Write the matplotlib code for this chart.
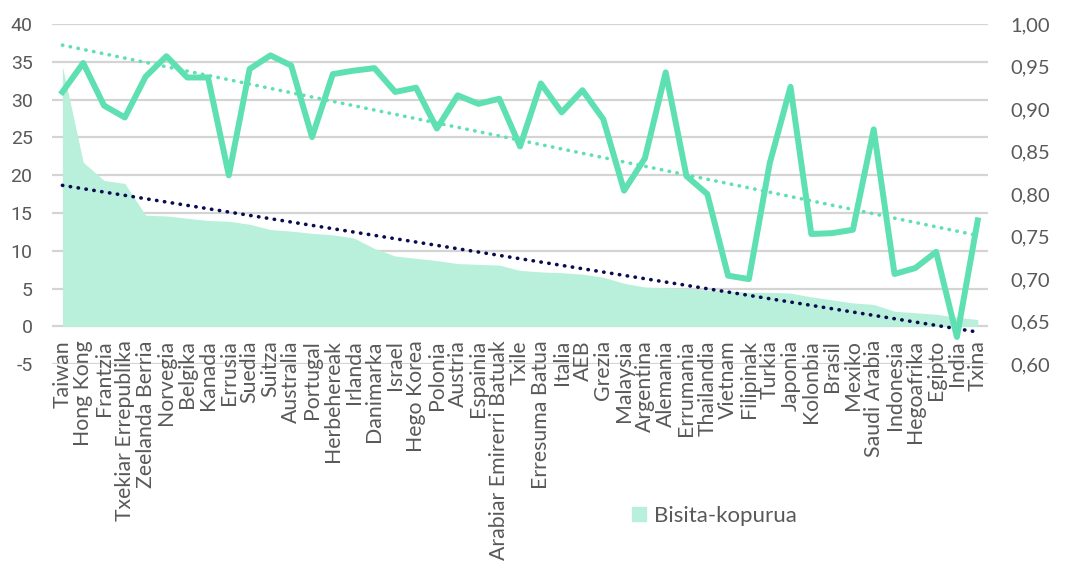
import numpy as np
import matplotlib
matplotlib.use("Agg")
import matplotlib.pyplot as plt
from matplotlib.patches import Patch
from matplotlib.ticker import FuncFormatter

plt.rcParams["axes.unicode_minus"] = False

COUNTRIES = ["Taiwan", "Hong Kong", "Frantzia", "Txekiar Errepublika", "Zeelanda Berria",
             "Norvegia", "Belgika", "Kanada", "Errusia", "Suedia", "Suitza", "Australia",
             "Portugal", "Herbehereak", "Irlanda", "Danimarka", "Israel", "Hego Korea",
             "Polonia", "Austria", "Espainia", "Arabiar Emirerri Batuak", "Txile",
             "Erresuma Batua", "Italia", "AEB", "Grezia", "Malaysia", "Argentina",
             "Alemania", "Errumania", "Thailandia", "Vietnam", "Filipinak", "Turkia",
             "Japonia", "Kolonbia", "Brasil", "Mexiko", "Saudi Arabia", "Indonesia",
             "Hegoafrika", "Egipto", "India", "Txina"]

# Bisita-kopurua (left axis)
VISITS = [34.4, 21.7, 19.3, 18.9, 14.7, 14.6, 14.3, 14.0, 13.9, 13.5, 12.8, 12.6,
          12.3, 12.1, 11.7, 10.3, 9.3, 9.0, 8.7, 8.3, 8.2, 8.1, 7.4,
          7.2, 7.1, 6.9, 6.5, 5.7, 5.2, 5.1, 5.0, 4.8, 4.7, 4.5, 4.5,
          4.4, 3.9, 3.5, 3.1, 2.9, 2.0, 1.8, 1.6, 1.2, 0.9]

# ratio (right axis)
RATIO = [0.920, 0.954, 0.904, 0.890, 0.938, 0.962, 0.937, 0.937, 0.822, 0.947, 0.963,
         0.951, 0.867, 0.941, 0.945, 0.948, 0.920, 0.925, 0.877, 0.916, 0.906, 0.912,
         0.856, 0.930, 0.896, 0.922, 0.888, 0.804, 0.842, 0.943, 0.821, 0.800, 0.704,
         0.700, 0.836, 0.926, 0.753, 0.754, 0.758, 0.876, 0.706, 0.713, 0.732, 0.632,
         0.769]

LEFT_TICKS = [-5, 0, 5, 10, 15, 20, 25, 30, 35, 40]
RIGHT_TICKS = [0.60, 0.65, 0.70, 0.75, 0.80, 0.85, 0.90, 0.95, 1.00]

AREA_C = "#b8f0dc"
LINE_C = "#5fe0b2"
NAVY = "#0b0b4f"
TEXT_C = "#595959"
GRID_C = "#d4d4d4"

RECT = [0.0487, 0.360, 0.8765, 0.598]
fig = plt.figure(figsize=(10.68, 5.69), dpi=100)

# background axes that only carries the horizontal gridlines
gx = fig.add_axes(RECT, zorder=0)
gx.set_xlim(-0.5, len(COUNTRIES) - 0.5)
gx.set_ylim(-5, 40)
gx.hlines(LEFT_TICKS, -0.5, len(COUNTRIES) - 0.5, colors=GRID_C, lw=1.6)
gx.axis("off")

ax = fig.add_axes(RECT, zorder=1)
ax.patch.set_visible(False)
ax2 = ax.twinx()

x = np.arange(len(COUNTRIES))

ax.set_xlim(-0.5, len(COUNTRIES) - 0.5)
ax.set_ylim(-5, 40)
ax.set_yticks(LEFT_TICKS)
ax2.set_ylim(0.60, 1.00)
ax2.set_yticks(RIGHT_TICKS)
ax2.yaxis.set_major_formatter(FuncFormatter(lambda v, p: f"{v:.2f}".replace(".", ",")))

ax.fill_between(x, 0, VISITS, color=AREA_C, lw=0, zorder=2)
k, b = np.polyfit(x, VISITS, 1)
ax.plot(x, k * x + b, color=NAVY, lw=2.6, ls=(0, (0.1, 2.1)),
        dash_capstyle="round", zorder=3)

ax2.plot(x, RATIO, color=LINE_C, lw=4.3, zorder=4)
k2, b2 = np.polyfit(x, RATIO, 1)
ax2.plot(x, k2 * x + b2, color=LINE_C, lw=2.6, ls=(0, (0.1, 2.1)),
         dash_capstyle="round", zorder=3)

for a in (ax, ax2):
    for s in a.spines.values():
        s.set_visible(False)
    a.tick_params(length=0, colors=TEXT_C)

# category labels hang from the zero line
ax.spines["bottom"].set_position(("data", 0))
ax.set_xticks(x)
ax.set_xticklabels(COUNTRIES, rotation=90, fontsize=15.3, family="Lato",
                   color=TEXT_C)
ax.tick_params(axis="x", pad=10)
for t in ax.get_yticklabels():
    t.set_family("Roboto")
    t.set_fontsize(14)
ax.tick_params(axis="y", pad=14)
for t in ax2.get_yticklabels():
    t.set_family("Lato")
    t.set_fontsize(14.5)
ax2.tick_params(axis="y", pad=16)

leg = fig.legend(handles=[Patch(color=AREA_C, label="Bisita-kopurua")],
                 loc="center", bbox_to_anchor=(0.669, 0.093), frameon=False,
                 handlelength=0.6, handleheight=0.6, handletextpad=0.35,
                 prop={"family": "Lato", "size": 16})
for t in leg.get_texts():
    t.set_color(TEXT_C)

fig.savefig("out.png", dpi=100)
